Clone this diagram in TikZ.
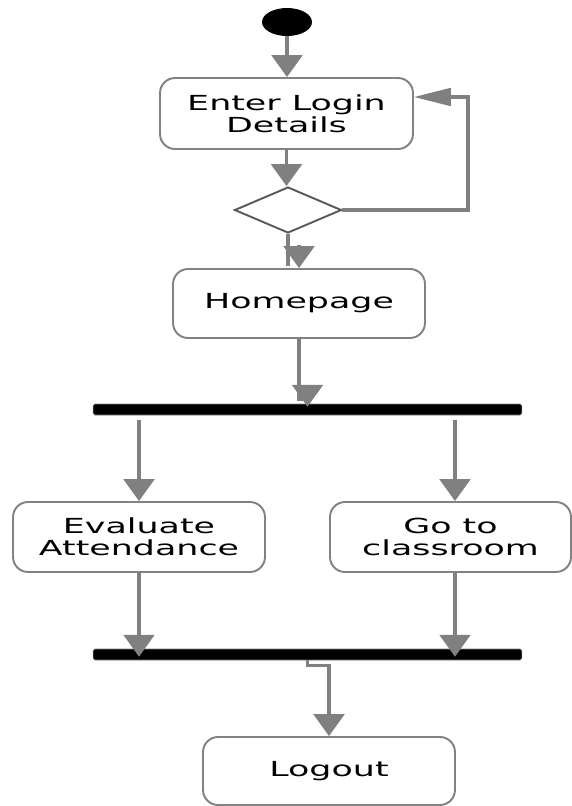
\documentclass[tikz,border=0pt]{standalone}
\usepackage{fontspec}
\setmainfont{DejaVu Sans}[FakeStretch=1.68]
\usepackage{tikz}
\usetikzlibrary{shapes.geometric}
\usetikzlibrary{arrows.meta}
\definecolor{wiregray}{RGB}{128,128,128}
\definecolor{boxgray}{RGB}{130,130,130}
\definecolor{diagray}{RGB}{90,90,90}

\begin{document}
\begin{tikzpicture}[x=0.02cm, y=-0.02cm,
		act/.style={draw=boxgray, line width=1.1pt, rounded corners=0.3cm, fill=white, minimum width=5.04cm, minimum height=1.4cm, align=center, inner sep=0pt, font=\fontsize{11.8}{12.5}\selectfont},
		decision/.style={diamond, draw=diagray, line width=1.1pt, fill=white, minimum width=2.14cm, minimum height=0.92cm, inner sep=0pt},
		syncbar/.style={fill=black, draw=gray, line width=0.3pt, rounded corners=1pt, minimum width=8.58cm, minimum height=0.22cm, inner sep=0pt},
		startdot/.style={ellipse, fill=black, minimum width=1cm, minimum height=0.56cm, inner sep=0pt},
		wire/.style={draw=wiregray, line width=1.8pt},
		flow/.style={wire, -{Triangle[length=12.5pt,width=17.5pt]}},
		flowback/.style={wire, -{Triangle[length=21pt,width=10pt]}}]
			\useasboundingbox (0,0) rectangle (572,806);
			% Activities, decision and bars:
			\node[startdot] (start) at (287,22){};
			\node[act, minimum width=5.06cm, minimum height=1.42cm] (login) at (286.5,113.5){Enter Login\\Details};
			\node[decision] (check) at (288,210){};
			\node[act, minimum height=1.38cm] (home) at (299,303.5){Homepage};
			\node[syncbar] (fork) at (307.5,409.5){};
			\node[act] (eval) at (139,537){Evaluate\\Attendance};
			\node[act, minimum width=4.82cm] (class) at (450.5,537){Go to\\classroom};
			\node[syncbar] (join) at (307.5,654.5){};
			\node[act, minimum height=1.36cm] (logout) at (329,771){Logout};
			\coordinate (loop) at (468,97);
			\coordinate (homein) at ([yshift=0.46cm]home.north);
			\coordinate (classin) at ([xshift=0.09cm]class.north);
			\coordinate (classout) at ([xshift=0.09cm]class.south);
			\draw[flow] (start.south) -- (start.south |- login.north);
			\draw[flow] (login.south) -- (login.south |- check.north);
			\draw[flowback] (check.east) -| (loop) -- (loop -| login.east);
			\draw[wire] (check.south) -- ++(0,32);
			\draw[flow] (homein) -- (home.north);
			\draw[flow, shorten >=-0.06cm] (home.south) -- ++(0,60) -| (fork.north);
			\draw[flow] ([yshift=-0.1cm]fork.south -| eval.north) -- (eval.north);
			\draw[flow] ([yshift=-0.1cm]fork.south -| classin) -- (classin);
			\draw[flow, shorten >=-0.16cm] (eval.south) -- (eval.south |- join.north);
			\draw[flow, shorten >=-0.16cm] (classout) -- (classout |- join.north);
			\draw[flow] (join.south) -- ++(0,5) -| (logout.north);
		\end{tikzpicture}
\end{document}
